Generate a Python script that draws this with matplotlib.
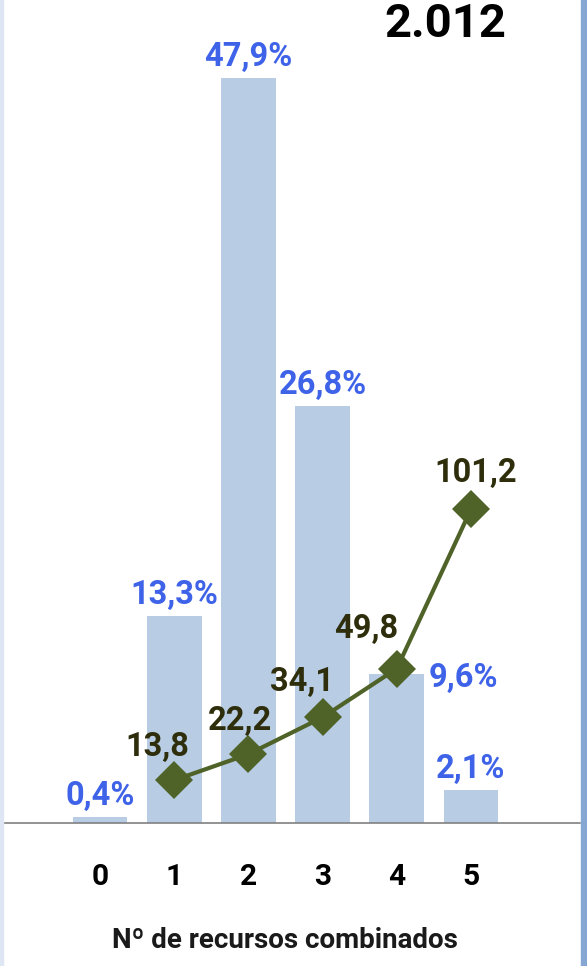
import matplotlib
matplotlib.use("Agg")
import matplotlib.pyplot as plt
from matplotlib.patches import Rectangle

# data
categories = ["0", "1", "2", "3", "4", "5"]
share_pct = [0.4, 13.3, 47.9, 26.8, 9.6, 2.1]
line_x = [1, 2, 3, 4, 5]
line_vals = [13.8, 22.2, 34.1, 49.8, 101.2]
title = "2.012"
xlabel = "Nº de recursos combinados"

bar_color = "#b8cce4"
pct_color = "#3f63e8"
line_color = "#4f6228"
num_color = "#2e2e0c"

plt.rcParams['font.family'] = ['Roboto', 'DejaVu Sans']

fig = plt.figure(figsize=(5.87, 9.66), dpi=100)
W, H = 587, 966
base = 823
ax = fig.add_axes([0, (H - base) / H, 580 / W, base / H])

x = list(range(len(categories)))
ax.bar(x, share_pct, width=0.74, color=bar_color, zorder=1)
ax.set_xlim(-100 / 74.2, (580 - 100) / 74.2)
ax.set_ylim(0, base / 15.55)
ax.set_xticks(x)
ax.set_xticklabels(categories, fontsize=21.5, fontweight='bold')
ax.tick_params(axis='x', length=0, pad=29)
ax.set_yticks([])
for s in ['top', 'left', 'right']:
    ax.spines[s].set_visible(False)
ax.spines['bottom'].set_color('#808080')
ax.spines['bottom'].set_linewidth(1.2)

lab_size = 23.5
for i, v in enumerate(share_pct):
    txt = f"{v:.1f}".replace('.', ',') + "%"
    if i == 4:
        ax.annotate(txt, (i + 0.37, v), xytext=(4, -4), textcoords='offset pixels',
                    ha='left', va='center', color=pct_color, fontsize=lab_size, fontweight='bold')
    else:
        ax.annotate(txt, (i, v), xytext=(0, 5), textcoords='offset pixels',
                    ha='center', va='bottom', color=pct_color, fontsize=lab_size, fontweight='bold')

ax2 = ax.twinx()
ax2.set_ylim(0, base / 3.1)
ax2.plot(line_x, line_vals, color=line_color, lw=3, marker='D', ms=19, mew=0, zorder=3)
ax2.set_yticks([])
for s in ax2.spines.values():
    s.set_visible(False)

offsets = [(-17, 33), (-8, 33), (-21, 35), (-31, 40), (5, 36)]
for xi, v, off in zip(line_x, line_vals, offsets):
    ax2.annotate(f"{v:.1f}".replace('.', ','), (xi, v), xytext=off, textcoords='offset pixels',
                 ha='center', va='center', color=num_color, fontsize=lab_size, fontweight='bold')

fig.text(445 / W, 1 - 24 / H, title, ha='center', va='center', fontsize=34, fontweight='bold')
fig.text(285 / W, 1 - 940 / H, xlabel, ha='center', va='center', fontsize=20, fontweight='bold',
         color='#1a1a1a')

# window-like side borders
fig.patches.append(Rectangle((581 / W, 0), 6 / W, 1, transform=fig.transFigure,
                             color='#86a6d4', zorder=0))
fig.patches.append(Rectangle((0, 0), 3 / W, 1, transform=fig.transFigure,
                             color='#dde6f2', zorder=0))

fig.savefig("out.png", dpi=100)
